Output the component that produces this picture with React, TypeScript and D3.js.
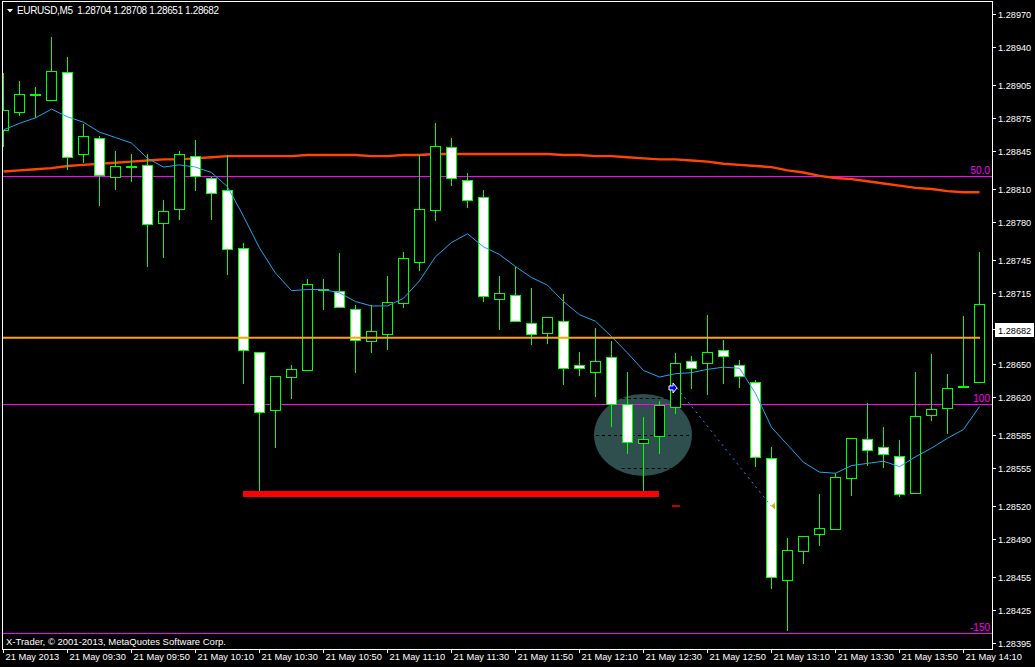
import React from "react";
import * as d3 from "d3";

// header
const symbolName = "EURUSD,M5";
const headerQuote = ["1.28704", "1.28708", "1.28651", "1.28682"];
const lastPrice = 1.28682;

// M5 bars, 21 May 2013 09:10 .. 14:15
const opens = [
  1.28864, 1.2888, 1.28896, 1.28891, 1.28917, 1.28842, 1.28857, 1.28821, 1.2883, 1.28832,
  1.28779, 1.28792, 1.2884, 1.2882, 1.28809, 1.28756, 1.28661, 1.28608, 1.28638, 1.28644,
  1.28718, 1.28717, 1.287, 1.28671, 1.28677, 1.28706, 1.28743, 1.28791, 1.28848, 1.28818,
  1.28803, 1.28709, 1.28713, 1.28687, 1.28678, 1.28689, 1.28649, 1.28643, 1.28656, 1.28613,
  1.28578, 1.28584, 1.28611, 1.28653, 1.28651, 1.28663, 1.28649, 1.28633, 1.28564, 1.28452,
  1.28479, 1.28494, 1.28499, 1.28546, 1.28581, 1.28574, 1.28566, 1.28532, 1.28603, 1.2861,
  1.28629, 1.28633,
];
const highs = [
  1.28916, 1.28909, 1.28903, 1.28949, 1.28931, 1.28869, 1.28858, 1.28845, 1.28842, 1.28842,
  1.288, 1.28845, 1.28855, 1.28821, 1.28841, 1.28761, 1.28661, 1.28639, 1.28649, 1.28728,
  1.28728, 1.28751, 1.28704, 1.28704, 1.2873, 1.28752, 1.28841, 1.2887, 1.28857, 1.28825,
  1.28809, 1.2873, 1.28739, 1.28719, 1.28693, 1.28714, 1.28661, 1.28683, 1.28671, 1.28643,
  1.28601, 1.28616, 1.2866, 1.28657, 1.28695, 1.28672, 1.28654, 1.28635, 1.28574, 1.28491,
  1.28493, 1.28531, 1.2855, 1.28582, 1.28614, 1.28592, 1.2858, 1.28643, 1.28659, 1.28641,
  1.28694, 1.28752,
];
const lows = [
  1.28848, 1.28877, 1.28875, 1.2889, 1.28827, 1.28834, 1.28794, 1.28809, 1.28816, 1.28739,
  1.28747, 1.28782, 1.28808, 1.28782, 1.28731, 1.28632, 1.28533, 1.28573, 1.28618, 1.28644,
  1.28699, 1.28702, 1.28642, 1.2866, 1.28663, 1.28701, 1.28735, 1.28781, 1.28813, 1.28793,
  1.28707, 1.28681, 1.28688, 1.28667, 1.28668, 1.28631, 1.28639, 1.2862, 1.28592, 1.28568,
  1.28533, 1.28568, 1.28604, 1.28627, 1.28622, 1.28632, 1.28628, 1.28556, 1.28444, 1.28406,
  1.28467, 1.28483, 1.28498, 1.28529, 1.28557, 1.28555, 1.28528, 1.28532, 1.28598, 1.28586,
  1.28629, 1.28633,
];
const closes = [
  1.28882, 1.28897, 1.28896, 1.28918, 1.28839, 1.28858, 1.28823, 1.28831, 1.2883, 1.28778,
  1.2879, 1.28842, 1.28822, 1.28806, 1.28755, 1.28663, 1.28606, 1.28639, 1.28645, 1.28723,
  1.28718, 1.28702, 1.28672, 1.2868, 1.28707, 1.28747, 1.28792, 1.28849, 1.2882, 1.288,
  1.28712, 1.28715, 1.28689, 1.28677, 1.28693, 1.28646, 1.28646, 1.28653, 1.28613, 1.28579,
  1.28581, 1.28612, 1.28651, 1.28646, 1.28661, 1.28657, 1.28639, 1.28565, 1.28455, 1.2848,
  1.28493, 1.285, 1.28547, 1.28582, 1.28571, 1.28568, 1.28531, 1.28602, 1.28609, 1.28628,
  1.28629, 1.28705,
];

// moving averages, one value per bar
const maFast = [
  1.28864, 1.2887, 1.28875, 1.28883, 1.28876, 1.28871, 1.28862, 1.28857, 1.28852, 1.28838,
  1.2883, 1.28832, 1.2883, 1.28825, 1.28812, 1.28785, 1.28756, 1.28733, 1.28717, 1.28718,
  1.28718, 1.28715, 1.28707, 1.28703, 1.28703, 1.2871, 1.28726, 1.28748, 1.28761, 1.28769,
  1.28757, 1.2875, 1.28739, 1.28729, 1.28722, 1.28707, 1.28695, 1.28689, 1.28675, 1.2866,
  1.28644, 1.28638, 1.28641, 1.28642, 1.28645, 1.28647, 1.28646, 1.28623, 1.28592, 1.28576,
  1.2856, 1.28551, 1.2855, 1.28557, 1.28559, 1.28561, 1.28556, 1.28565, 1.28573, 1.28582,
  1.2859, 1.28611,
];
const maSlow = [
  1.28826, 1.28827, 1.28828, 1.28829, 1.28831, 1.28832, 1.28833, 1.28834, 1.28835, 1.28836,
  1.28837, 1.28837, 1.28838, 1.28839, 1.2884, 1.2884, 1.2884, 1.2884, 1.2884, 1.28841,
  1.28841, 1.28841, 1.28841, 1.2884, 1.2884, 1.28841, 1.28841, 1.28842, 1.28842, 1.28842,
  1.28842, 1.28842, 1.28842, 1.28842, 1.28842, 1.28841, 1.28841, 1.2884, 1.2884, 1.28839,
  1.28838, 1.28837, 1.28837, 1.28836, 1.28835, 1.28833, 1.28832, 1.28831, 1.2883, 1.28827,
  1.28825, 1.28822, 1.2882, 1.28819, 1.28817, 1.28815, 1.28813, 1.28811, 1.2881, 1.28808,
  1.28807, 1.28807,
];

// axes
const priceTicks = [
  1.2897, 1.2894, 1.28905, 1.28875, 1.28845, 1.2881, 1.2878, 1.28745, 1.28715,
  1.2865, 1.2862, 1.28585, 1.28555, 1.2852, 1.2849, 1.28455, 1.28425, 1.28395,
];
const timeLabels = [
  "21 May 2013", "21 May 09:30", "21 May 09:50", "21 May 10:10", "21 May 10:30",
  "21 May 10:50", "21 May 11:10", "21 May 11:30", "21 May 11:50", "21 May 12:10",
  "21 May 12:30", "21 May 12:50", "21 May 13:10", "21 May 13:30", "21 May 13:50",
  "21 May 14:10",
];
const barsPerLabel = 4;

// drawn objects
const fiboLevels = [
  { label: "50.0", price: 1.28822 },
  { label: "100", price: 1.28613 },
  { label: "-150", price: 1.28404 },
];
const hLinePrice = 1.28674;
const hLineEndBar = 61;
const supportLine = { fromBar: 15, toBar: 41, price: 1.28531 };
const ellipseObj = { bar: 40, price: 1.28585, halfBars: 3.06, halfPrice: 0.000375 };
const ellipseDashes = [
  { price: 1.28619, from: 38.67, to: 42.1 },
  { price: 1.28585, from: 37.06, to: 43.3 },
  { price: 1.28555, from: 38.67, to: 42.0 },
];
const trade = { openBar: 42, openPrice: 1.28628, closeBar: 48, closePrice: 1.2852 };
const takeProfit = { bar: 42, price: 1.2852 };

const W = 1035;
const H = 667;
const frame = { left: 2, top: 2, right: 992, bottom: 649 };
const FONT = "'Liberation Sans', Arial, sans-serif";
const GREEN = "#00FF00";

export default function App() {
  const x = d3.scaleLinear().domain([0, 61]).range([3, 979]);
  const y = d3.scaleLinear().domain([1.28395, 1.2897]).range([642.7, 14]);

  const lineGen = (vals: number[]) =>
    d3
      .line<number>()
      .x((_, i) => x(i) + 0.5)
      .y((v) => y(v))(vals) ?? "";

  const bars = d3.range(opens.length);
  const ex = x(ellipseObj.bar);
  const ey = y(ellipseObj.price);
  const erx = x(ellipseObj.bar + ellipseObj.halfBars) - ex;
  const ery = y(ellipseObj.price - ellipseObj.halfPrice) - ey;

  const ox = x(trade.openBar) + 2;
  const oy = y(trade.openPrice);
  const cx = x(trade.closeBar);
  const cy = y(trade.closePrice);

  return (
    <div style={{ position: "fixed", left: 0, top: 0, width: W, height: H, background: "#000" }}>
      <svg width={W} height={H} style={{ display: "block", fontFamily: FONT }}>
        <rect width={W} height={H} fill="#000" />
        <defs>
          <clipPath id="plot">
            <rect
              x={frame.left + 1}
              y={frame.top + 1}
              width={frame.right - frame.left - 1}
              height={frame.bottom - frame.top - 1}
            />
          </clipPath>
        </defs>

        <g clipPath="url(#plot)">
          {/* ellipse object */}
          <ellipse cx={ex} cy={ey} rx={erx} ry={ery} fill="#2F4F4F" />
          {ellipseDashes.map((d, i) => (
            <line
              key={i}
              x1={x(d.from)}
              x2={x(d.to)}
              y1={Math.round(y(d.price)) + 0.5}
              y2={Math.round(y(d.price)) + 0.5}
              stroke="#000"
              strokeDasharray="3,3"
            />
          ))}

          {/* fibo levels */}
          {fiboLevels.map((f) => {
            const ly = Math.round(y(f.price)) + 0.5;
            return (
              <g key={f.label}>
                <line x1={frame.left} x2={frame.right} y1={ly} y2={ly} stroke="#FF00FF" />
                <text x={990} y={ly - 2.5} textAnchor="end" fill="#FF00FF" fontSize={10}>
                  {f.label}
                </text>
              </g>
            );
          })}

          {/* slow MA */}
          <path d={lineGen(maSlow)} fill="none" stroke="#FF4500" strokeWidth={2.4} />

          {/* candles */}
          {bars.map((i) => {
            const cxp = Math.round(x(i));
            const top = y(Math.max(opens[i], closes[i]));
            const bot = y(Math.min(opens[i], closes[i]));
            const bull = closes[i] > opens[i];
            const doji = closes[i] === opens[i];
            return (
              <g key={i} shapeRendering="crispEdges">
                <line
                  x1={cxp + 0.5}
                  x2={cxp + 0.5}
                  y1={y(highs[i])}
                  y2={y(lows[i])}
                  stroke={GREEN}
                />
                {doji ? (
                  <rect x={cxp - 5} y={top - 1} width={11} height={2} fill={GREEN} />
                ) : (
                  <rect
                    x={cxp - 4.5}
                    y={Math.round(top) + 0.5}
                    width={10}
                    height={Math.max(1, Math.round(bot) - Math.round(top))}
                    fill={bull ? "#000" : "#fff"}
                    stroke={GREEN}
                  />
                )}
              </g>
            );
          })}

          {/* fast MA */}
          <path d={lineGen(maFast)} fill="none" stroke="#1CA6F2" strokeWidth={1} />

          {/* horizontal line */}
          <line
            x1={frame.left}
            x2={x(hLineEndBar) + 1}
            y1={y(hLinePrice)}
            y2={y(hLinePrice)}
            stroke="#FFA500"
            strokeWidth={2}
          />

          {/* support line */}
          <line
            x1={x(supportLine.fromBar)}
            x2={x(supportLine.toBar)}
            y1={y(supportLine.price)}
            y2={y(supportLine.price)}
            stroke="#FF0000"
            strokeWidth={6}
          />

          {/* trade */}
          <line x1={ox} y1={oy} x2={cx} y2={cy} stroke="#1E90FF" strokeDasharray="2,4" />
          <path
            d={`M${ox - 8},${oy - 2}L${ox - 4},${oy - 2}L${ox - 4},${oy - 5}L${ox},${oy}L${ox - 4},${oy + 5}L${ox - 4},${oy + 2}L${ox - 8},${oy + 2}Z`}
            fill="#0000FF"
            stroke="#fff"
            strokeWidth={1}
          />
          <path d={`M${cx},${cy}L${cx + 4},${cy - 3.5}L${cx + 4},${cy + 3.5}Z`} fill="#DAA520" />
          <line
            x1={x(takeProfit.bar) - 3}
            x2={x(takeProfit.bar) + 5}
            y1={y(takeProfit.price)}
            y2={y(takeProfit.price)}
            stroke="#FF0000"
            strokeWidth={1.5}
          />
        </g>

        {/* header */}
        <path d="M7,9L13,9L10,12.5Z" fill="#fff" />
        <text x={17} y={14} fill="#fff" fontSize={10} xmlSpace="preserve" textLength={202} lengthAdjust="spacing">
          {`${symbolName}  ${headerQuote.join(" ")}`}
        </text>

        {/* frame */}
        <rect
          x={frame.left + 0.5}
          y={frame.top - 0.5}
          width={frame.right - frame.left}
          height={frame.bottom - frame.top + 1}
          fill="none"
          stroke="#fff"
          shapeRendering="crispEdges"
        />

        <text x={6} y={645} fill="#fff" fontSize={9.5}>
          X-Trader, © 2001-2013, MetaQuotes Software Corp.
        </text>

        {/* price axis */}
        {priceTicks.map((p) => {
          const ty = Math.round(y(p)) + 0.5;
          return (
            <g key={p}>
              <line x1={frame.right + 1} x2={frame.right + 4} y1={ty} y2={ty} stroke="#fff" />
              <text x={998} y={ty + 3.5} fill="#fff" fontSize={9.2}>
                {p.toFixed(5)}
              </text>
            </g>
          );
        })}
        <line
          x1={frame.right}
          x2={frame.right + 4}
          y1={Math.round(y(lastPrice)) + 0.5}
          y2={Math.round(y(lastPrice)) + 0.5}
          stroke="#fff"
        />
        <rect x={995} y={Math.round(y(lastPrice)) - 6} width={39} height={14} fill="#fff" />
        <text x={998} y={Math.round(y(lastPrice)) + 4.5} fill="#000" fontSize={9.2}>
          {lastPrice.toFixed(5)}
        </text>

        {/* time axis */}
        {timeLabels.map((t, k) => {
          const tx = Math.round(x(k * barsPerLabel)) + 0.5;
          return (
            <g key={t}>
              <line x1={tx} x2={tx} y1={frame.bottom} y2={frame.bottom + 4} stroke="#fff" />
              <text x={tx + 2} y={660} fill="#fff" fontSize={9.3}>
                {t}
              </text>
            </g>
          );
        })}
      </svg>
    </div>
  );
}
